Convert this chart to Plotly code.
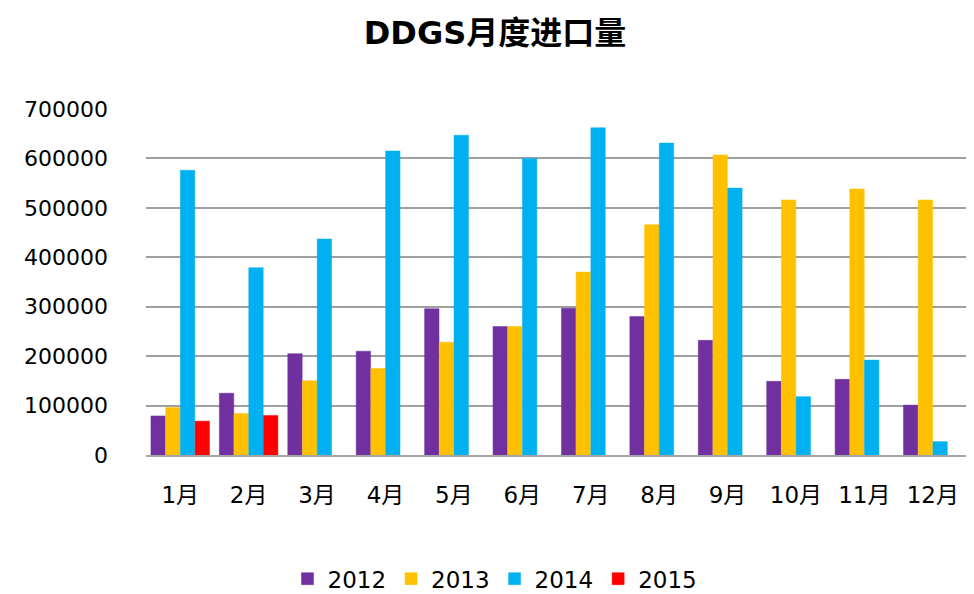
import plotly.graph_objects as go

months = ["1月", "2月", "3月", "4月", "5月", "6月", "7月", "8月", "9月", "10月", "11月", "12月"]
y2012 = [79000, 125000, 205000, 210000, 296000, 260000, 297000, 280000, 232000, 149000, 153000, 101000]
y2013 = [96000, 84000, 150000, 175000, 228000, 260000, 370000, 466000, 607000, 516000, 538000, 516000]
y2014 = [576000, 379000, 437000, 615000, 647000, 600000, 662000, 631000, 540000, 118000, 192000, 27000]
y2015 = [68500, 80000, None, None, None, None, None, None, None, None, None, None]

series = [("2012", y2012, "#7030A0"), ("2013", y2013, "#FFC000"),
          ("2014", y2014, "#00B0F0"), ("2015", y2015, "#FF0000")]

fig = go.Figure()
for name, vals, col in series:
    fig.add_trace(go.Bar(x=months, y=vals, name=name,
                         marker=dict(color=col, line=dict(color=col, width=0.5))))

fig.update_layout(
    width=974, height=594,
    paper_bgcolor="white", plot_bgcolor="white",
    barmode="group", bargap=0.14, bargroupgap=0.02,
    margin=dict(l=138, r=15, t=101, b=147, autoexpand=False),
    title=dict(text="<b>DDGS月度进口量</b>", x=0.5, xanchor="center", y=0.958, yanchor="middle",
               font=dict(family="DejaVu Sans, Noto Sans CJK SC", size=32, color="black")),
    font=dict(family="DejaVu Sans, Noto Sans CJK SC", size=22, color="black"),
    xaxis=dict(showgrid=False, showline=True, linecolor="#A6A6A6", linewidth=2,
               ticks="", ticklabelstandoff=18, tickfont=dict(size=23)),
    yaxis=dict(range=[0, 700000], dtick=100000, showgrid=True, gridcolor="#A0A0A0", gridwidth=2,
               zeroline=False, showline=False, tickformat="d", ticklabelstandoff=37,
               tickfont=dict(size=22)),
    legend=dict(orientation="h", xref="container", x=0.50, xanchor="center",
                yref="container", y=0.003, yanchor="bottom",
                font=dict(size=23), itemwidth=30, traceorder="normal"),
)

fig.write_html("out.html")
